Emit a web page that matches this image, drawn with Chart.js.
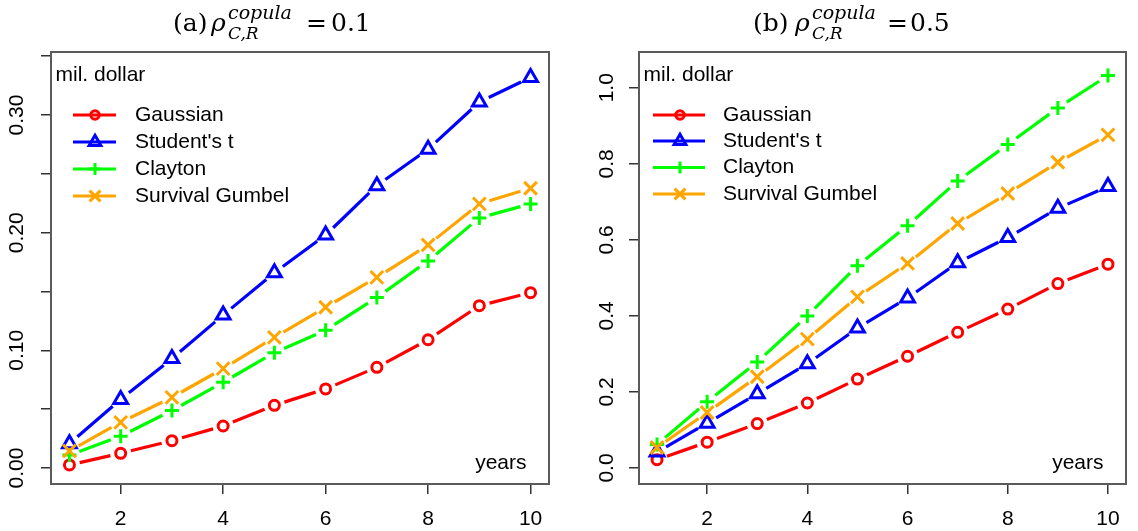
<!DOCTYPE html>
<html>
<head>
<meta charset="utf-8">
<script src="https://cdn.jsdelivr.net/npm/chart.js@4.4.1/dist/chart.umd.min.js"></script>
<style>
  html, body { margin:0; padding:0; background:#fff; }
  #wrap { position:relative; width:1138px; height:531px; overflow:hidden; background:#fff; }
  canvas { position:absolute; top:0; }
  .t { position:absolute; font-family:"DejaVu Serif", serif; line-height:1; white-space:nowrap; color:#000; }
  .m { font-size:25px; }
  .i { font-style:italic; }
  .sup { font-size:19px; font-style:italic; }
  .sub { font-size:17px; font-style:italic; }
</style>
</head>
<body>
<div id="wrap">
  <canvas id="ca" width="569" height="531" style="left:0;width:569px;height:531px"></canvas>
  <canvas id="cb" width="569" height="531" style="left:569px;width:569px;height:531px"></canvas>

  <span class="t m" style="left:173px;top:10px">(a)</span>
  <span class="t m i" style="left:211px;top:10px">ρ</span>
  <span class="t sup" style="left:228px;top:3px">copula</span>
  <span class="t sub" style="left:228px;top:25px">C,R</span>
  <span class="t m" style="left:306px;top:10px">=</span>
  <span class="t m" style="left:331px;top:10px">0.1</span>

  <span class="t m" style="left:753px;top:10px">(b)</span>
  <span class="t m i" style="left:795px;top:10px">ρ</span>
  <span class="t sup" style="left:812px;top:3px">copula</span>
  <span class="t sub" style="left:812px;top:25px">C,R</span>
  <span class="t m" style="left:887px;top:10px">=</span>
  <span class="t m" style="left:910px;top:10px">0.5</span>
</div>
<script>
// ---------------- data ----------------
const years = [1, 2, 3, 4, 5, 6, 7, 8, 9, 10];
const seriesNames = ['Gaussian', "Student's t", 'Clayton', 'Survival Gumbel'];

// panel (a) rho = 0.1
const gaussianA = [0.0026, 0.0125, 0.0232, 0.0357, 0.0533, 0.0672, 0.0856, 0.109, 0.138, 0.149];
const studentA  = [0.0207, 0.0583, 0.093, 0.130, 0.166, 0.198, 0.240, 0.271, 0.311, 0.332];
const claytonA  = [0.011, 0.027, 0.0488, 0.0729, 0.098, 0.117, 0.145, 0.176, 0.2126, 0.2245];
const gumbelA   = [0.0145, 0.0388, 0.060, 0.0845, 0.111, 0.1366, 0.162, 0.1896, 0.2245, 0.2378];

// panel (b) rho = 0.5
const gaussianB = [0.022, 0.068, 0.117, 0.171, 0.234, 0.294, 0.357, 0.418, 0.485, 0.536];
const studentB  = [0.042, 0.118, 0.195, 0.274, 0.368, 0.447, 0.540, 0.606, 0.683, 0.740];
const claytonB  = [0.062, 0.174, 0.279, 0.400, 0.532, 0.637, 0.755, 0.851, 0.947, 1.032];
const gumbelB   = [0.054, 0.146, 0.240, 0.339, 0.450, 0.538, 0.643, 0.722, 0.804, 0.876];

// ticks
const xTicks = [2, 4, 6, 8, 10];
const yTicksA = [0, 0.05, 0.10, 0.15, 0.20, 0.25, 0.30, 0.35];
const yLabelsA = ['0.00', '', '0.10', '', '0.20', '', '0.30', ''];
const yTicksB = [0, 0.2, 0.4, 0.6, 0.8, 1.0];
const yLabelsB = ['0.0', '0.2', '0.4', '0.6', '0.8', '1.0'];

// ---------------- styling ----------------
const colors = ['#FF0000', '#0000FF', '#00FF00', '#FFA500'];
const pStyles = ['circle', 'triangle', 'cross', 'crossRot'];
const pRadius = [5, 8, 7, 9];
const FONT = '21px "Liberation Sans", Arial, sans-serif';
const GAP = 10.5;
const LINE_W = 3.2;

function makeDatasets(series) {
  return series.map((vals, i) => ({
    label: seriesNames[i],
    data: years.map((x, k) => ({ x: x, y: vals[k] })),
    borderColor: colors[i],
    backgroundColor: colors[i],
    borderWidth: LINE_W,
    showLine: false,
    pointStyle: pStyles[i],
    pointRadius: pRadius[i],
    pointHoverRadius: pRadius[i],
    pointBorderWidth: 3,
    pointBorderColor: colors[i],
    pointBackgroundColor: 'rgba(0,0,0,0)',
    order: 4 - i
  }));
}

// R type="b": connecting segments that stop short of each point (positions from the chart's point elements)
const gapLines = {
  id: 'gapLines',
  beforeDatasetsDraw(chart) {
    const ctx = chart.ctx;
    ctx.save();
    chart.data.datasets.forEach((ds, i) => {
      const pts = chart.getDatasetMeta(i).data;
      ctx.strokeStyle = ds.borderColor;
      ctx.lineWidth = LINE_W;
      ctx.lineCap = 'butt';
      for (let k = 0; k < pts.length - 1; k++) {
        const p0 = pts[k], p1 = pts[k + 1];
        const dx = p1.x - p0.x, dy = p1.y - p0.y;
        const L = Math.hypot(dx, dy);
        if (L <= 2 * GAP) continue;
        const ux = dx / L, uy = dy / L;
        ctx.beginPath();
        ctx.moveTo(p0.x + ux * GAP, p0.y + uy * GAP);
        ctx.lineTo(p1.x - ux * GAP, p1.y - uy * GAP);
        ctx.stroke();
      }
    });
    ctx.restore();
  }
};

const decor = {
  id: 'decor',
  afterDraw(chart, args, o) {
    const { ctx, chartArea: a, scales } = chart;
    const y = scales.y;
    ctx.save();
    ctx.strokeStyle = '#5a5a5a';
    ctx.lineWidth = 2;
    ctx.setLineDash([]);
    ctx.strokeRect(a.left, a.top, a.right - a.left, a.bottom - a.top);
    ctx.font = FONT;
    ctx.fillStyle = '#000';
    o.yTicks.forEach((v, i) => {
      const lab = o.yLabels[i];
      if (!lab) return;
      const py = y.getPixelForValue(v);
      ctx.save();
      ctx.translate(o.yLabelX, py);
      ctx.rotate(-Math.PI / 2);
      ctx.textAlign = 'center';
      ctx.textBaseline = 'middle';
      ctx.fillText(lab, 0, 0);
      ctx.restore();
    });
    ctx.textBaseline = 'middle';
    ctx.textAlign = 'left';
    ctx.fillText('mil. dollar', a.left + 4.5, 75);
    ctx.textAlign = 'right';
    ctx.fillText('years', a.right - 22.5, 463);
    chart.data.datasets.forEach((ds, i) => {
      const ry = o.rows[i];
      ctx.strokeStyle = ds.borderColor;
      ctx.lineWidth = LINE_W;
      ctx.lineCap = 'butt';
      ctx.beginPath();
      ctx.moveTo(o.lx0, ry);
      ctx.lineTo(o.lx1, ry);
      ctx.stroke();
      ctx.fillStyle = 'rgba(0,0,0,0)';
      ctx.lineWidth = 3;
      Chart.helpers.drawPoint(ctx, { pointStyle: ds.pointStyle, radius: ds.pointRadius * 0.85, borderWidth: 3, rotation: 0 }, o.mx, ry);
      ctx.fillStyle = '#000';
      ctx.textAlign = 'left';
      ctx.textBaseline = 'middle';
      ctx.fillText(ds.label, o.tx, ry);
    });
    ctx.restore();
  }
};

function makeChart(id, series, yMin, yMax, yTicks, pad, yWidth, deco) {
  return new Chart(document.getElementById(id), {
    type: 'line',
    data: { datasets: makeDatasets(series) },
    options: {
      responsive: false,
      animation: false,
      devicePixelRatio: 1,
      layout: { padding: pad },
      plugins: { legend: { display: false }, tooltip: { enabled: false }, decor: deco },
      scales: {
        x: {
          type: 'linear', min: 0.64, max: 10.36,
          afterBuildTicks: s => { s.ticks = xTicks.map(v => ({ value: v })); },
          afterFit: s => { s.height = 47; },
          grid: { drawOnChartArea: false, drawTicks: true, tickLength: 10, color: '#333', lineWidth: 1.5 },
          border: { display: false },
          ticks: { autoSkip: false, maxRotation: 0, minRotation: 0, padding: 13, color: '#000', font: { family: '"Liberation Sans", Arial, sans-serif', size: 21 }, callback: v => String(v) }
        },
        y: {
          type: 'linear', min: yMin, max: yMax,
          afterBuildTicks: s => { s.ticks = yTicks.map(v => ({ value: v })); },
          afterFit: s => { s.width = yWidth; },
          grid: { drawOnChartArea: false, drawTicks: true, tickLength: 10, color: '#333', lineWidth: 1.5 },
          border: { display: false },
          ticks: { display: false }
        }
      }
    },
    plugins: [gapLines, decor]
  });
}

makeChart('ca', [gaussianA, studentA, claytonA, gumbelA], -0.0136, 0.3536, yTicksA,
  { left: 0, top: 52, right: 20, bottom: 0 }, 51,
  { yTicks: yTicksA, yLabels: yLabelsA, yLabelX: 17.5, rows: [115, 142, 169, 196], lx0: 73, lx1: 116, mx: 95, tx: 135 });

makeChart('cb', [gaussianB, studentB, claytonB, gumbelB], -0.042, 1.094, yTicksB,
  { left: 0, top: 52, right: 2, bottom: 0 }, 70,
  { yTicks: yTicksB, yLabels: yLabelsB, yLabelX: 38, rows: [115, 141, 167.5, 194], lx0: 84, lx1: 136, mx: 111, tx: 154 });
</script>
</body>
</html>
